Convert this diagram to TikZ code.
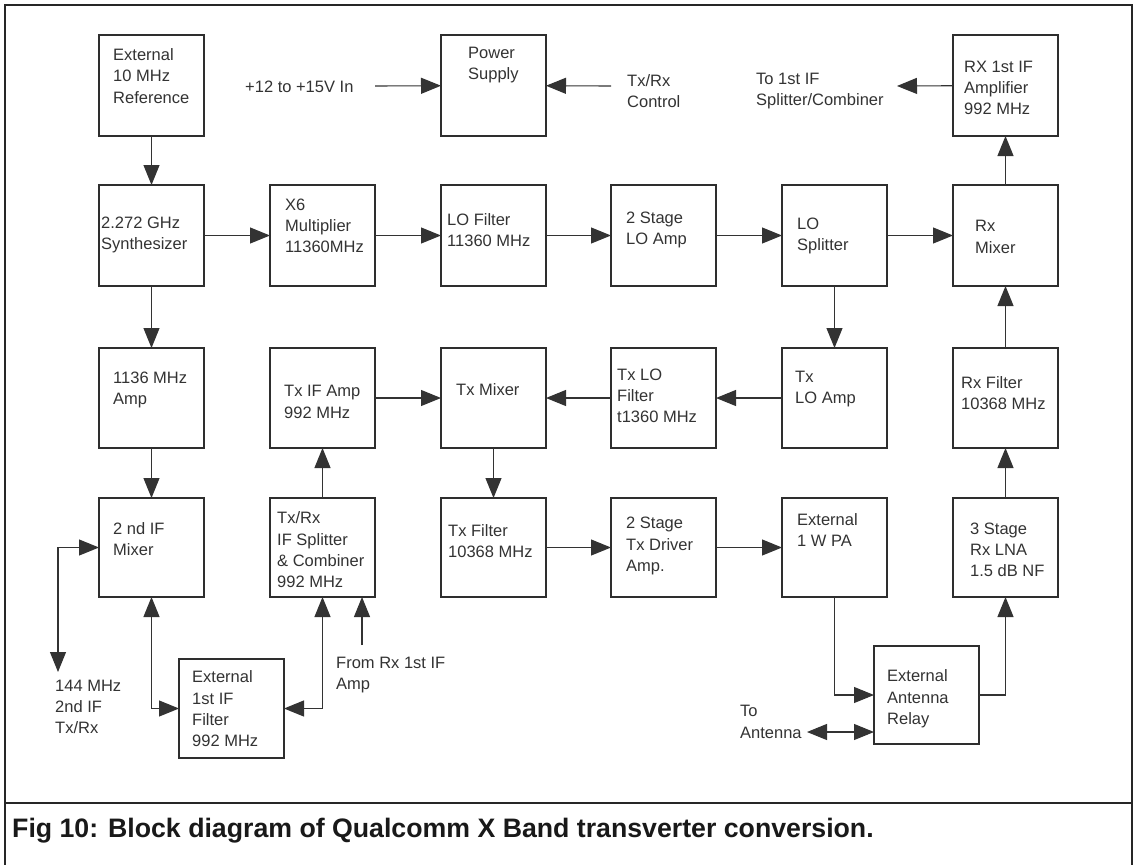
\documentclass[tikz,border=0pt]{standalone}
\usepackage{fontspec}
\setmainfont{Liberation Sans}
\usetikzlibrary{arrows.meta,calc}
\begin{document}
\begin{tikzpicture}[x=1pt,y=-1pt,
  blk/.style={draw=black!82, line width=1.4pt, minimum width=105pt, minimum height=101pt, inner sep=0pt, outer sep=0pt, anchor=north west},
  txt/.style={font=\fontsize{16.5}{21.3}\selectfont, align=left, inner sep=0pt, anchor=west, text=black!80},
  arr/.style={draw=black!80, line width=1.1pt, -{Triangle[length=20pt,width=16pt]}},
  dbl/.style={draw=black!80, line width=1.1pt, {Triangle[length=20pt,width=16pt]}-{Triangle[length=20pt,width=16pt]}},
  line/.style={draw=black!80, line width=1.1pt}]
\useasboundingbox (0,0) rectangle (1136,865);
\fill[white] (0,0) rectangle (1136,865);
% frame and caption separator
\draw[line width=2pt, draw=black!85] (5,880) -- (5,5) -- (1132,5) -- (1132,880);
\draw[line width=2pt, draw=black!85] (5,803) -- (1132,803);
\node[font=\bfseries\fontsize{26.7}{30}\selectfont, anchor=base west, inner sep=0pt, text=black!90] (cap) at (12,837) {Fig 10: Block diagram of Qualcomm X Band transverter conversion.};

% boxes
\node[blk] (ext) at (99,35) {};
\node[blk] (ps) at (441,35) {};
\node[blk] (rxifa) at (953,35) {};
\node[blk] (synth) at (99,185) {};
\node[blk] (x6) at (270,185) {};
\node[blk] (lof) at (441,185) {};
\node[blk] (loamp) at (611,185) {};
\node[blk] (losp) at (782,185) {};
\node[blk] (rxmix) at (953,185) {};
\node[blk, minimum height=100pt] (amp) at (99,348) {};
\node[blk, minimum height=100pt] (txifamp) at (270,348) {};
\node[blk, minimum height=100pt] (txmix) at (441,348) {};
\node[blk, minimum height=100pt] (txlof) at (611,348) {};
\node[blk, minimum height=100pt] (txloamp) at (782,348) {};
\node[blk, minimum height=100pt] (rxfilt) at (953,348) {};
\node[blk, minimum height=99pt] (ifmix) at (99,498) {};
\node[blk, minimum height=99pt] (split) at (270,498) {};
\node[blk, minimum height=99pt] (txfilt) at (441,498) {};
\node[blk, minimum height=99pt] (txdrv) at (611,498) {};
\node[blk, minimum height=99pt] (pa) at (782,498) {};
\node[blk, minimum height=99pt] (lna) at (953,498) {};
\node[blk, minimum height=99pt] (ifilt) at (179,659) {};
\node[blk, minimum height=98pt] (relay) at (874,646) {};

% box texts
\node[txt] (ext-t) at (113,76) {External\\10 MHz\\Reference};
\node[txt] (ps-t) at (468,65) {Power\\Supply};
\node[txt] (rxifa-t) at (964,88) {RX 1st IF\\Amplifier\\992 MHz};
\node[txt] (synth-t) at (101,235) {2.272 GHz\\Synthesizer};
\node[txt] (x6-t) at (285,226) {X6\\Multiplier\\11360MHz};
\node[txt] (lof-t) at (447,230) {LO Filter\\11360 MHz};
\node[txt] (loamp-t) at (626,230) {2 Stage\\LO Amp};
\node[txt] (losp-t) at (797,236) {LO\\Splitter};
\node[txt] (rxmix-t) at (975,237) {Rx\\Mixer};
\node[txt] (amp-t) at (113,390) {1136 MHz\\Amp};
\node[txt] (txifamp-t) at (284,402) {Tx IF Amp\\992 MHz};
\node[txt] (txmix-t) at (456,390) {Tx Mixer};
\node[txt] (txlof-t) at (617,396) {Tx LO\\Filter\\t1360 MHz};
\node[txt] (txloamp-t) at (795,389) {Tx\\LO Amp};
\node[txt] (rxfilt-t) at (961,393) {Rx Filter\\10368 MHz};
\node[txt] (ifmix-t) at (113,539) {2 nd IF\\Mixer};
\node[txt] (split-t) at (277,550) {Tx/Rx\\IF Splitter\\\& Combiner\\992 MHz};
\node[txt] (txfilt-t) at (448,541) {Tx Filter\\10368 MHz};
\node[txt] (txdrv-t) at (626,546) {2 Stage\\Tx Driver\\Amp.};
\node[txt] (pa-t) at (797,530) {External\\1 W PA};
\node[txt] (lna-t) at (970,550) {3 Stage\\Rx LNA\\1.5 dB NF};
\node[txt] (ifilt-t) at (192,709) {External\\1st IF\\Filter\\992 MHz};
\node[txt] (relay-t) at (887,699) {External\\Antenna\\Relay};

% free labels
\node[txt] (vin) at (245,87) {+12 to +15V In};
\node[txt] (ctl) at (627,91) {Tx/Rx\\Control};
\node[txt] (tosc) at (756,91) {To 1st IF\\Splitter/Combiner};
\node[txt] (if144) at (55,707) {144 MHz\\2nd IF\\Tx/Rx};
\node[txt] (fromrx) at (336,675) {From Rx 1st IF\\Amp};
\node[txt] (toant) at (740,722) {To\\Antenna};

% free connector ends
\coordinate (vinE) at (375,86);
\coordinate (ctlE) at (611,86);
\coordinate (toscE) at (897,86);
\coordinate (if144E) at (58,672);
\coordinate (fromrxE) at (362,645);
\coordinate (toantE) at (807,732);

% connectors
\draw[arr] (ext) -- (synth);
\draw[arr] (vinE) -- (ps);
\draw[arr] (ctlE) -- (ps);
\draw[arr] (rxifa) -- (toscE);
\draw[arr] (synth) -- (x6);
\draw[arr] (x6) -- (lof);
\draw[arr] (lof) -- (loamp);
\draw[arr] (loamp) -- (losp);
\draw[arr] (losp) -- (rxmix);
\draw[arr] (rxmix) -- (rxifa);
\draw[arr] (synth) -- (amp);
\draw[arr] (amp) -- (ifmix);
\draw[arr] (losp) -- (txloamp);
\draw[arr] (txloamp) -- (txlof);
\draw[arr] (txlof) -- (txmix);
\draw[arr] (txifamp) -- (txmix);
\draw[arr] (txmix) -- (txfilt);
\draw[arr] (split) -- (txifamp);
\draw[arr] (rxfilt) -- (rxmix);
\draw[arr] (lna) -- (rxfilt);
\draw[arr] (txfilt) -- (txdrv);
\draw[arr] (txdrv) -- (pa);
\draw[arr] (pa.south) |- (relay.west);
\draw[arr] (relay.east) -| (lna.south);
\draw[dbl] (toantE) -- (toantE -| relay.west);
\draw[dbl] (if144E) |- (ifmix.west);
\draw[dbl] (ifmix.south) |- (ifilt.west);
\draw[dbl] (ifilt.east) -| (split.south);
\draw[arr] (fromrxE) -- (fromrxE |- split.south);
\end{tikzpicture}
\end{document}
